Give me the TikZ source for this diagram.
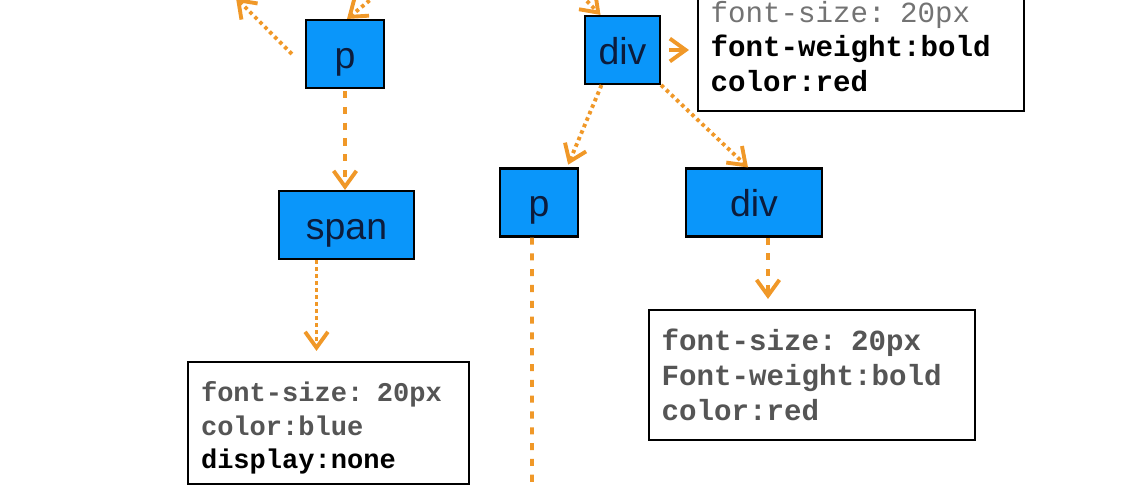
\documentclass[tikz,border=0pt]{standalone}
\usepackage{fontspec}
\setmainfont{Liberation Sans}
\newfontfamily\codefont{Liberation Mono}
\usetikzlibrary{arrows.meta}
\definecolor{tagblue}{RGB}{10,150,250}
\definecolor{tagtext}{RGB}{12,28,60}
\definecolor{linkorange}{RGB}{240,152,40}
\definecolor{codegray}{RGB}{85,85,85}
\definecolor{codelight}{RGB}{115,115,115}

\begin{document}
\begin{tikzpicture}[x=0.02cm, y=-0.02cm,
    tag/.style={draw=black, line width=1.2pt, fill=tagblue, text=tagtext, minimum height=1.36cm, text height=16pt, text depth=0pt, font=\fontsize{21.3}{25}\selectfont},
    css/.style={draw=black, line width=1.2pt, fill=white, align=left, inner xsep=0.25cm, text width=6.02cm, minimum height=2.6cm, text=codegray, font=\codefont\bfseries\fontsize{16.6}{19.8}\selectfont},
    link/.style={linkorange, line width=2.2pt, -{Straight Barb[length=9pt,width=13pt]}},
    dotlink/.style={dash pattern=on 2pt off 2pt},
    dashlink/.style={dash pattern=on 4pt off 5pt}]
  \useasboundingbox (0,0) rectangle (1142,486);
  \clip (0,0) rectangle (1142,486);
      \node[tag, minimum width=1.56cm] (P) at (345,54) {p};
      \node[tag, minimum width=2.7cm] (Span) at (346.5,225) {span};
      \node[tag, minimum width=1.5cm] (D) at (622.5,50) {div};
      \node[tag, minimum width=1.56cm] (P2) at (539,202.5) {p};
      \node[tag, minimum width=2.72cm] (D2) at (754,202.5) {div};
      \node[css, text width=5.1cm, inner xsep=0.26cm, minimum height=2.44cm, font=\codefont\bfseries\fontsize{15.4}{19}\selectfont] (Sa) at (328.5,423) {\rule{0pt}{17pt}font-size: 20px\\color:blue\\{\color{black}display:none}};
      \node[css, minimum height=2.58cm] (Sb) at (861,46.5) {{\mdseries\color{codelight}font-size: 20px}\\{\color{black}font-weight:bold}\\{\color{black}color:red}};
      \node[css] (Sc) at (812,375) {font-size: 20px\\Font-weight:bold\\color:red};
      \coordinate (ul) at (236,-2);
      \coordinate (ur) at (375,-4);
      \coordinate (dl) at (582,-4);
      \coordinate (pend) at (532,492);
    \draw [link, dotlink] ([xshift=-0.26cm]P.west) to (ul);
    \draw [link, dotlink] (ur) to ([xshift=0.04cm]P.north);
    \draw [link, dashlink, shorten <=0.04cm] (P.south) to (P.south |- Span.north);
    \draw [link, dotlink, shorten >=0.2cm] ([xshift=-0.6cm]Span.south) to ([xshift=-0.6cm]Span.south |- Sa.north);
    \draw [link, shorten <=0.16cm, shorten >=0.16cm] (D.east) to (D.east -| Sb.west);
    \draw [link, dotlink] (dl) to ([xshift=-0.44cm]D.north);
    \draw [link, dotlink, shorten >=0.06cm] ([xshift=-0.42cm]D.south) to ([xshift=0.56cm]P2.north);
    \draw [link, dotlink] (D.south east) to ([xshift=-0.12cm]D2.north);
    \draw [linkorange, line width=2.2pt, dashlink] ([xshift=-0.14cm]P2.south) to (pend);
    \draw [link, dashlink, shorten >=0.2cm] ([xshift=0.28cm]D2.south) to ([xshift=0.28cm]D2.south |- Sc.north);
      \end{tikzpicture}
\end{document}
